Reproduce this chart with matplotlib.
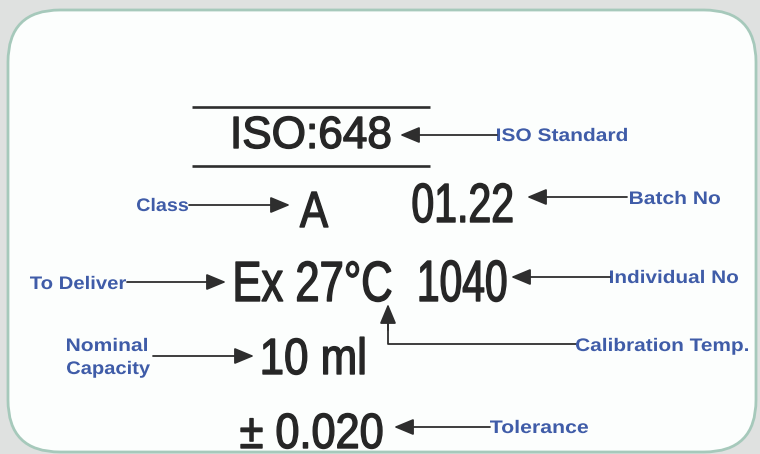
import matplotlib
matplotlib.use("Agg")
import matplotlib.pyplot as plt
from matplotlib.patches import FancyBboxPatch
from matplotlib.font_manager import FontProperties
from matplotlib.textpath import TextPath
from matplotlib.patheffects import AbstractPathEffect
from matplotlib.transforms import Affine2D

# ---- content ----
main_texts = ["ISO:648", "A", "01.22", "Ex 27°C", "1040", "10 ml", "± 0.020"]
label_texts = ["ISO Standard", "Class", "Batch No", "To Deliver", "Individual No",
               "Calibration Temp.", "Nominal", "Capacity", "Tolerance"]

# ---- layout (pixels: left ink x, right ink x, baseline y, cap height) ----
main_boxes = [(234, 390, 148, 31), (300, 328, 227, 35), (413, 512, 222, 38),
              (236, 391, 301, 39), (420, 506, 301, 40), (263, 364, 374, 35),
              (241, 382, 448, 34)]
label_boxes = [(497, 627, 141, 12.5), (137, 188, 211, 12.5), (630, 720, 204, 12.5),
               (30, 126, 289, 12.5), (610, 738, 283, 12.5), (576, 748, 351, 12.5),
               (67, 147, 351, 12.5), (67, 150, 374, 12.5), (490, 588, 433, 12.5)]

INK = "#262626"
BLUE = "#3f5ca8"
LINE = "#2e2e2e"

fig = plt.figure(figsize=(7.6, 4.54), dpi=100)
fig.patch.set_facecolor("#dfe1e0")
ax = fig.add_axes([0, 0, 1, 1])
ax.set_xlim(0, 760)
ax.set_ylim(454, 0)
ax.axis("off")

box = FancyBboxPatch((8, 10), 748, 442, boxstyle="round,pad=0,rounding_size=52",
                     fc="#fcfefd", ec="#a6c9bb", lw=2.0)
ax.add_patch(box)


class YScale(AbstractPathEffect):
    """Stretch glyphs vertically about the baseline, with an optional outline."""

    def __init__(self, sy, xd, yd, stroke=0.0):
        super().__init__()
        self.sy = sy
        self.xd = xd
        self.yd = yd
        self.stroke = stroke

    def draw_path(self, renderer, gc, tpath, affine, rgbFace=None):
        ypix = ax.transData.transform((self.xd, self.yd))[1]
        aff = affine + Affine2D().translate(0, -ypix).scale(1, self.sy).translate(0, ypix)
        gc0 = renderer.new_gc()
        gc0.copy_properties(gc)
        if self.stroke > 0:
            gc0.set_linewidth(self.stroke)
            gc0.set_foreground(rgbFace)
            gc0.set_joinstyle("round")
        renderer.draw_path(gc0, tpath, aff, rgbFace)
        gc0.restore()


def fit_text(s, bx, fp, color, stroke=0.0):
    x0, x1, base, cap = bx
    capH = TextPath((0, 0), "H", size=100, prop=fp).get_extents().height
    ext = TextPath((0, 0), s, size=100, prop=fp).get_extents()
    k = (x1 - x0) / ext.width          # px per unit at size 100 (width fitted)
    sy = cap / (capH * k)
    X = x0 - ext.x0 * k
    t = ax.text(X, base, s, fontproperties=fp, fontsize=100 * k * 72 / 100,
                color=color, ha="left", va="baseline")
    t.set_path_effects([YScale(sy, X, base, stroke)])
    return t


fp_big = FontProperties(family="Liberation Sans", weight="normal")
fp_lab = FontProperties(family="Liberation Sans", weight="bold")

for s, bx in zip(main_texts, main_boxes):
    fit_text(s, bx, fp_big, INK, stroke=1.0)
for s, bx in zip(label_texts, label_boxes):
    fit_text(s, bx, fp_lab, BLUE)

# rules above / below ISO
ax.plot([192, 430], [107, 107], color=LINE, lw=1.9, solid_capstyle="butt")
ax.plot([192, 430], [166, 166], color=LINE, lw=1.9, solid_capstyle="butt")


def arrow(x0, y0, x1, y1):
    ax.annotate("", xy=(x1, y1), xytext=(x0, y0),
                arrowprops=dict(arrowstyle="-|>,head_length=1.2,head_width=0.5",
                                color=LINE, lw=1.3, shrinkA=0, shrinkB=0))


arrow(497, 135, 400, 135)      # ISO standard
arrow(189, 205, 290, 205)      # Class
arrow(627, 197, 527, 197)      # Batch No
arrow(127, 282, 226, 282)      # To Deliver
arrow(610, 277, 511, 277)      # Individual No
ax.plot([576, 388, 388], [344, 344, 320], color=LINE, lw=1.3)
arrow(388, 330, 388, 304)      # Calibration temp
arrow(153, 356, 254, 356)      # Nominal capacity
arrow(490, 427, 394, 427)      # Tolerance

fig.savefig("out.png", dpi=100, facecolor=fig.get_facecolor())
